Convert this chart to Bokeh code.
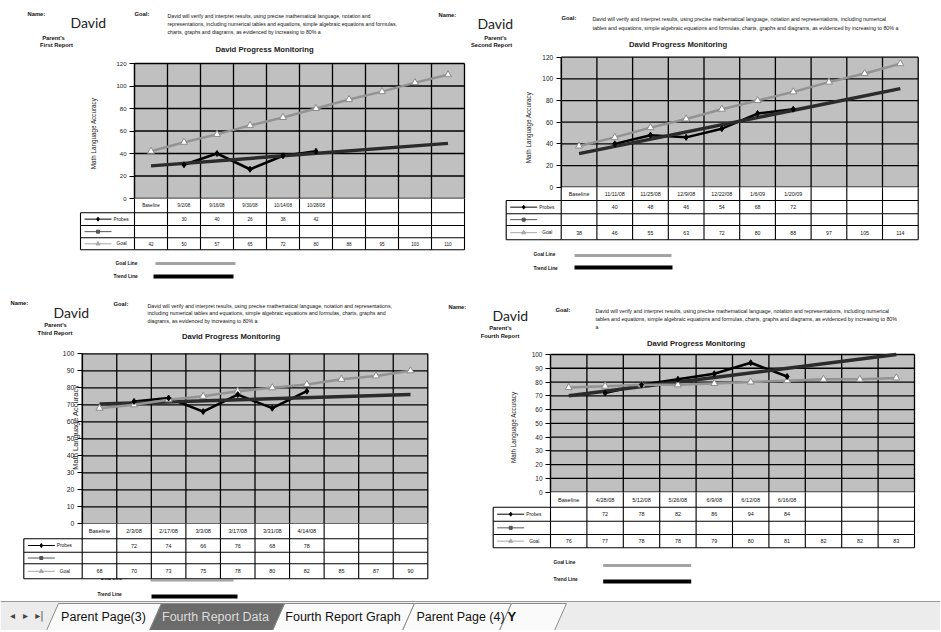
import math
from bokeh.plotting import figure
from bokeh.models import Range1d, LinearAxis, FixedTicker
from bokeh.layouts import column, row
from bokeh.embed import file_html
from bokeh.resources import INLINE
from bokeh.core.properties import value

FONT = "Liberation Sans"
NAME_FONT = "Lato"
TAB_FONT = "Liberation Sans"

# ---------------- data ----------------
student = "David"
chart_title = "David Progress Monitoring"
y_title = "Math Language Accuracy"
name_label = "Name:"
goal_label = "Goal:"
parents_label = "Parent's"
report_titles = ["First Report", "Second Report", "Third Report", "Fourth Report"]
row_labels = ["Probes", "", "Goal"]
legend_labels = ["Goal Line", "Trend Line"]
sheet_tabs = ["Parent Page(3)", "Fourth Report Data", "Fourth Report Graph", "Parent Page (4)"]

dates_1 = ["Baseline", "9/2/08", "9/16/08", "9/30/08", "10/14/08", "10/28/08", "", "", "", ""]
probes_1 = [None, 30, 40, 26, 38, 42, None, None, None, None]
goal_1 = [42, 50, 57, 65, 72, 80, 88, 95, 103, 110]
trend_1 = [29, 49]
yticks_1 = [0, 20, 40, 60, 80, 100, 120]

dates_2 = ["Baseline", "11/11/08", "11/25/08", "12/9/08", "12/22/08", "1/6/09", "1/20/09", "", "", ""]
probes_2 = [None, 40, 48, 46, 54, 68, 72, None, None, None]
goal_2 = [38, 46, 55, 63, 72, 80, 88, 97, 105, 114]
trend_2 = [31, 91]
yticks_2 = [0, 20, 40, 60, 80, 100, 120]

dates_3 = ["Baseline", "2/3/08", "2/17/08", "3/3/08", "3/17/08", "3/31/08", "4/14/08", "", "", ""]
probes_3 = [None, 72, 74, 66, 76, 68, 78, None, None, None]
goal_3 = [68, 70, 73, 75, 78, 80, 82, 85, 87, 90]
trend_3 = [70.5, 76]
yticks_3 = [0, 10, 20, 30, 40, 50, 60, 70, 80, 90, 100]

dates_4 = ["Baseline", "4/28/08", "5/12/08", "5/26/08", "6/9/08", "6/12/08", "6/16/08", "", "", ""]
probes_4 = [None, 72, 78, 82, 86, 94, 84, None, None, None]
goal_4 = [76, 77, 78, 78, 79, 80, 81, 82, 82, 83]
trend_4 = [70, 100]
yticks_4 = [0, 10, 20, 30, 40, 50, 60, 70, 80, 90, 100]

goal_text_1 = ["David will verify and interpret results, using precise mathematical language, notation and",
               "representations, including numerical tables and equations, simple algebraic equations and formulas,",
               "charts, graphs and diagrams, as evidenced by increasing to 80% a"]
goal_text_2 = ["David will verify and interpret results, using precise mathematical language, notation and representations, including numerical",
               "tables and equations, simple algebraic equations and formulas, charts, graphs and diagrams, as evidenced by increasing to 80% a"]
goal_text_3 = ["David will verify and interpret results, using precise mathematical language, notation and representations,",
               "including numerical tables and equations, simple algebraic equations and formulas, charts, graphs and",
               "diagrams, as evidenced by increasing to 80% a"]
goal_text_4 = ["David will verify and interpret results, using precise mathematical language, notation and representations, including numerical",
               "tables and equations, simple algebraic equations and formulas, charts, graphs and diagrams, as evidenced by increasing to 80%",
               "a"]

# ---------------- layout (page pixel positions) ----------------
GEO = [
    dict(origin=(0, 0), size=(466, 290), plot=(134, 464, 63, 198),
         rows=(198, 212.3, 225, 237.3, 249.3), l0=80,
         tick_font=6, date_font=4.6, val_font=4.6,
         name=(27, 13), david=(70, 22), parents=(53, 37), report=(56, 44),
         goal=(134, 13), goal_text=(167, 15, 8.3, 5.2), title=(264, 49, 7.7),
         ylab=(93, 133, 6.3), extra_name=(438, 14),
         legend=[(115, 263, 155, 235, 263, "#a3a3a3", 3), (113, 276, 153, 233, 276, "#000000", 4)]),
    dict(origin=(466, 0), size=(474, 290), plot=(560.7, 917.7, 56.7, 186.7),
         rows=(186.7, 200, 213.3, 225, 239.3), l0=505.7,
         tick_font=6.5, date_font=5.4, val_font=5.2,
         name=None, david=(477, 23), parents=(495, 37), report=(491, 44),
         goal=(561, 17), goal_text=(592, 18.3, 8.7, 5.3), title=(677.5, 44, 7.7),
         ylab=(528, 127, 6.3), extra_name=None,
         legend=[(533, 254, 574, 671, 255, "#a3a3a3", 3), (533, 268, 574, 672, 267, "#000000", 4)]),
    dict(origin=(0, 290), size=(470, 310), plot=(81.7, 427.3, 353.3, 523.3),
         rows=(523.3, 538.3, 551.7, 563.3, 578.3), l0=23.3,
         tick_font=6.8, date_font=5.6, val_font=5.4,
         name=(10, 302.7), david=(53, 312), parents=(55, 324), report=(54.5, 332),
         goal=(113, 303), goal_text=(147, 305, 7.6, 5.25), title=(230.5, 336, 7.7),
         ylab=(75, 426.7, 7.5), extra_name=(448, 306),
         legend=[(100, 578, 150, 233, 580, "#a3a3a3", 2), (97, 594, 151, 237, 596, "#000000", 4)]),
    dict(origin=(470, 290), size=(470, 310), plot=(550, 914, 354, 491.7),
         rows=(491.7, 506.7, 520.7, 534, 547.3), l0=492.7,
         tick_font=6.5, date_font=5.6, val_font=5.4,
         name=None, david=(492, 315), parents=(500, 327), report=(499.5, 335),
         goal=(555, 309), goal_text=(595, 310, 8.2, 5.3), title=(695.5, 342.7, 7.7),
         ylab=(513, 426.7, 6.3), extra_name=None,
         legend=[(553, 561.7, 602.7, 690.7, 565, "#a3a3a3", 3), (553, 579, 602.7, 690.7, 581, "#000000", 4)]),
]


def make_chart(geo, dates, probes, goal, trend, yticks, goal_text, report):
    ox, oy = geo["origin"]
    W, H = geo["size"]
    l, r, t, b = geo["plot"]
    n = len(goal)
    ymax = yticks[-1]
    sx = n / (r - l)
    sy = ymax / (b - t)

    def X(px):
        return (px - l) * sx

    def Y(py):
        return (b - py) * sy

    p = figure(width=W, height=H,
               x_range=Range1d(X(ox), X(ox + W)),
               y_range=Range1d(Y(oy + H), Y(oy)),
               x_axis_type=None, y_axis_type=None,
               toolbar_location=None, output_backend="svg", min_border=0)
    p.outline_line_color = None
    p.background_fill_color = "white"
    p.border_fill_color = "white"

    def dtxt(x, y, s, size, bold=False, align="left", font=FONT, color="#111111", angle=0.0):
        p.text(x=x if isinstance(x, list) else [x], y=y if isinstance(y, list) else [y],
               text=s if isinstance(s, list) else [s],
               text_font=value(font), text_font_size=f"{size}px",
               text_font_style="bold" if bold else "normal",
               text_align=align, text_baseline="middle", text_color=color, angle=angle)

    def ptxt(px, py, s, size, bold=False, align="left", font=FONT, color="#111111"):
        dtxt(X(px), Y(py), s, size, bold, align, font, color)

    # ---- header ----
    if geo["name"]:
        ptxt(*geo["name"], name_label, 5.8, bold=True)
    if geo["extra_name"]:
        ptxt(*geo["extra_name"], name_label, 5.8, bold=True)
    ptxt(*geo["david"], student, 14, font=NAME_FONT, color="#222222")
    ptxt(*geo["parents"], parents_label, 5.8, bold=True, align="center")
    ptxt(*geo["report"], report, 5.8, bold=True, align="center")
    ptxt(*geo["goal"], goal_label, 5.8, bold=True)
    gx, gy, gstep, gsize = geo["goal_text"]
    for k, line in enumerate(goal_text):
        ptxt(gx, gy + k * gstep, line, gsize)
    tx, ty, tsize = geo["title"]
    ptxt(tx, ty, chart_title, tsize, bold=True, align="center", color="#222222")
    yx, yy, ysize = geo["ylab"]
    dtxt(X(yx), Y(yy), y_title, ysize, align="center", angle=math.pi / 2, color="#222222")

    # ---- legend lines below the table ----
    for (lab, (lx, ly, x0, x1, yl, col, w)) in zip(legend_labels, geo["legend"]):
        ptxt(lx, ly, lab, 4.8, bold=True)
        p.segment(x0=[X(x0)], y0=[Y(yl)], x1=[X(x1)], y1=[Y(yl)], line_color=col, line_width=w)

    # ---- plot area ----
    cats = list(range(n + 1))
    p.quad(left=[0], right=[n], bottom=[0], top=[ymax], fill_color="#c0c0c0", line_color=None)
    p.segment(x0=[0] * len(yticks), y0=yticks, x1=[n] * len(yticks), y1=yticks,
              line_color="black", line_width=1.3)
    p.segment(x0=cats, y0=[0] * (n + 1), x1=cats, y1=[ymax] * (n + 1),
              line_color="black", line_width=1.3)

    # ---- data table ----
    ry = [Y(v) for v in geo["rows"]]
    lx0 = X(geo["l0"])
    p.quad(left=[lx0], right=[0], top=[ry[1]], bottom=[ry[4]], fill_color="white", line_color=None)
    p.quad(left=[0], right=[n], top=[ry[0]], bottom=[ry[4]], fill_color="white", line_color=None)
    p.segment(x0=[0] * 4, y0=ry[1:], x1=[n] * 4, y1=ry[1:], line_color="black", line_width=1.1)
    p.segment(x0=[lx0] * 4, y0=ry[1:], x1=[0] * 4, y1=ry[1:], line_color="black", line_width=1.1)
    p.segment(x0=cats, y0=[ry[0]] * (n + 1), x1=cats, y1=[ry[4]] * (n + 1), line_color="black", line_width=1.1)
    p.segment(x0=[lx0], y0=[ry[1]], x1=[lx0], y1=[ry[4]], line_color="black", line_width=1.1)
    mids = [(ry[k] + ry[k + 1]) / 2 for k in range(4)]
    centers = [i + 0.5 for i in range(n)]
    dtxt(centers, [mids[0]] * n, dates, geo["date_font"], align="center")
    dtxt(centers, [mids[1]] * n, ["" if v is None else str(v) for v in probes], geo["val_font"], align="center")
    dtxt(centers, [mids[3]] * n, [str(v) for v in goal], geo["val_font"], align="center")
    l0 = geo["l0"]
    k0, k1, km = X(l0 + 4), X(l0 + 31), X(l0 + 17.5)
    key_styles = [("#000000", "diamond", 4), ("#555555", "square", 3), ("#a8a8a8", "triangle", 4)]
    for k, (col, mk, sz) in enumerate(key_styles):
        ym = mids[k + 1]
        p.segment(x0=[k0], y0=[ym], x1=[k1], y1=[ym], line_color=col, line_width=1)
        p.scatter(x=[km], y=[ym], marker=mk, size=sz, fill_color=col, line_color=col)
    dtxt(X(l0 + 33), mids[1], row_labels[0], 4.8)
    dtxt(X(l0 + 36), mids[3], row_labels[2], 4.8)

    # ---- series ----
    pxs = [centers[i] for i, v in enumerate(probes) if v is not None]
    pvs = [v for v in probes if v is not None]
    p.line(pxs, pvs, line_color="black", line_width=2.5)
    p.line([centers[0], centers[-1]], trend, line_color="#2b2b2b", line_width=3.5)
    p.line(centers, goal, line_color="#939393", line_width=2.5)
    p.scatter(centers, goal, marker="triangle", size=7, fill_color="white", line_color="#8a8a8a", line_width=1)
    p.scatter(pxs, pvs, marker="diamond", size=6, fill_color="black", line_color="black")

    # ---- y axis ----
    ax = LinearAxis(fixed_location=0, bounds=(0, ymax),
                    ticker=FixedTicker(ticks=yticks, minor_ticks=[]),
                    major_tick_out=5, major_tick_in=0, minor_tick_out=0, minor_tick_in=0,
                    major_label_standoff=3, major_label_text_font=FONT,
                    major_label_text_font_size=f"{geo['tick_font']}px",
                    major_label_text_color="#222222",
                    axis_line_color="black", axis_line_width=1.2, major_tick_line_color="black")
    p.add_layout(ax, "left")
    return p


f1 = make_chart(GEO[0], dates_1, probes_1, goal_1, trend_1, yticks_1, goal_text_1, report_titles[0])
f2 = make_chart(GEO[1], dates_2, probes_2, goal_2, trend_2, yticks_2, goal_text_2, report_titles[1])
f3 = make_chart(GEO[2], dates_3, probes_3, goal_3, trend_3, yticks_3, goal_text_3, report_titles[2])
f4 = make_chart(GEO[3], dates_4, probes_4, goal_4, trend_4, yticks_4, goal_text_4, report_titles[3])

# ---------------- sheet tab bar ----------------
tab = figure(width=940, height=30, x_range=Range1d(0, 940), y_range=Range1d(630, 600),
             x_axis_type=None, y_axis_type=None, toolbar_location=None,
             output_backend="svg", min_border=0)
tab.outline_line_color = None
tab.background_fill_color = "white"
tab.border_fill_color = "white"
tab.quad(left=[0], right=[940], top=[601], bottom=[630], fill_color="#ececec", line_color=None)
tab.segment(x0=[0], y0=[601], x1=[940], y1=[601], line_color="#9a9a9a", line_width=1)
seps = [52, 155, 278, 408, 505, 560]
active = 1
order = [0, 2, 3, 4, 1]
for i in order:
    sl, sr = seps[i], seps[i + 1] if i + 1 < len(seps) else 600
    fill = "#6b6b6b" if i == active else "#fafafa"
    tab.patch(x=[sl - 6, sl + 6, sr + 6, sr - 6], y=[630, 603, 603, 630],
              fill_color=fill, line_color="#8a8a8a", line_width=1)
tab_centers = [103, 215, 342.5, 460]
for i, (name, cx) in enumerate(zip(sheet_tabs, tab_centers)):
    tab.text(x=[cx], y=[616], text=[name], text_font=value(TAB_FONT), text_font_size="12.5px",
             text_align="center", text_baseline="middle",
             text_color="#dcdcdc" if i == active else "#111111")
tab.text(x=[507], y=[616], text=["Y"], text_font=value(FONT), text_font_size="13px",
         text_font_style="bold", text_align="left", text_baseline="middle", text_color="#111111")
tab.text(x=[12, 25, 39], y=[615, 615, 615], text=["◂", "▸", "▸|"], text_font=value("DejaVu Sans"),
         text_font_size="10px", text_align="center", text_baseline="middle", text_color="#444444")

layout = column(row(f1, f2), row(f3, f4), tab)
open("out.html", "w").write(file_html(layout, INLINE))
